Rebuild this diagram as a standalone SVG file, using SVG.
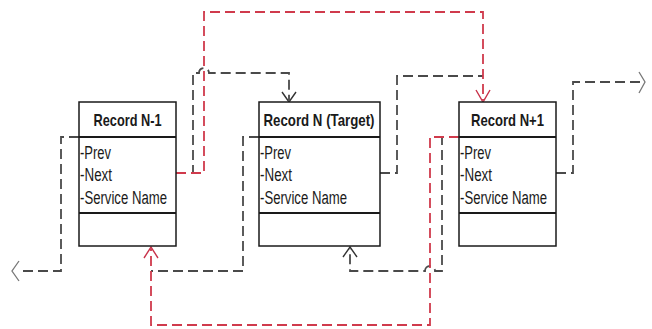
<svg xmlns="http://www.w3.org/2000/svg" width="652" height="329" viewBox="0 0 652 329">
<style>
.box{fill:#fff;stroke:#1a1a1a;stroke-width:1.5}
.div{stroke:#1a1a1a;stroke-width:1.8}
.t{font-family:"Liberation Sans",Arial,sans-serif;font-weight:bold;font-size:17px;fill:#1a1a1a;text-anchor:middle}
.a{font-family:"Liberation Sans",Arial,sans-serif;font-size:18px;fill:#1a1a1a}
.b{fill:none;stroke:#4a4a4a;stroke-width:1.8;stroke-dasharray:10 5}
.r{fill:none;stroke:#d03a4c;stroke-width:1.8;stroke-dasharray:10 5}
.ah{fill:none;stroke:#333;stroke-width:1.4}
.ahr{fill:none;stroke:#c8324a;stroke-width:1.4}
.ahg{fill:none;stroke:#777;stroke-width:1.3}
</style>
<g id="connectors">
  <path class="b" d="M79,137 H61 V271 H19"/>
  <polyline class="ahg" points="19,261 12,271 19,281"/>
  <path class="b" d="M259,137 H243 V271 H151"/>
  <path class="b" d="M459,137 H442 V271 H435 a5,5 0 0 0 -10,0 H350 V249"/>
  <polyline class="ah" points="343,257 350,247 357,257"/>
  <path class="b" d="M176,173 H193 V73 H199 a5,5 0 0 1 10,0 H289 V100"/>
  <polyline class="ah" points="282,92 289,102 296,92"/>
  <path class="b" d="M380,173 H397 V76 H483"/>
  <path class="b" d="M556,173 H573 V82 H640"/>
  <polyline class="ahg" points="639,72 645,82 639,93"/>
  <path class="r" d="M459,137 H430 V325 H151 V249"/>
  <polyline class="ahr" points="144,258 151,247 158,258"/>
  <path class="r" d="M176,173 H204 V12 H483 V100"/>
  <polyline class="ahr" points="476,90 483,102 490,90"/>
</g>
<g id="record-n-minus-1">
  <rect class="box" x="79" y="102" width="97" height="144"/>
  <line class="div" x1="79" y1="137" x2="176" y2="137"/>
  <line class="div" x1="79" y1="213" x2="176" y2="213"/>
  <text class="t" x="127.5" y="126" textLength="68" lengthAdjust="spacingAndGlyphs">Record N-1</text>
  <text class="a" x="80" y="159" textLength="31" lengthAdjust="spacingAndGlyphs">-Prev</text>
  <text class="a" x="80" y="181" textLength="32" lengthAdjust="spacingAndGlyphs">-Next</text>
  <text class="a" x="80" y="204" textLength="87" lengthAdjust="spacingAndGlyphs">-Service Name</text>
</g>
<g id="record-n">
  <rect class="box" x="259" y="102" width="121" height="144"/>
  <line class="div" x1="259" y1="137" x2="380" y2="137"/>
  <line class="div" x1="259" y1="213" x2="380" y2="213"/>
  <text class="t" x="319" y="126" textLength="111" lengthAdjust="spacingAndGlyphs">Record N (Target)</text>
  <text class="a" x="260" y="159" textLength="31" lengthAdjust="spacingAndGlyphs">-Prev</text>
  <text class="a" x="260" y="181" textLength="32" lengthAdjust="spacingAndGlyphs">-Next</text>
  <text class="a" x="260" y="204" textLength="87" lengthAdjust="spacingAndGlyphs">-Service Name</text>
</g>
<g id="record-n-plus-1">
  <rect class="box" x="459" y="102" width="97" height="144"/>
  <line class="div" x1="459" y1="137" x2="556" y2="137"/>
  <line class="div" x1="459" y1="213" x2="556" y2="213"/>
  <text class="t" x="507.5" y="126" textLength="73" lengthAdjust="spacingAndGlyphs">Record N+1</text>
  <text class="a" x="460" y="159" textLength="31" lengthAdjust="spacingAndGlyphs">-Prev</text>
  <text class="a" x="460" y="181" textLength="32" lengthAdjust="spacingAndGlyphs">-Next</text>
  <text class="a" x="460" y="204" textLength="87" lengthAdjust="spacingAndGlyphs">-Service Name</text>
</g>
</svg>
